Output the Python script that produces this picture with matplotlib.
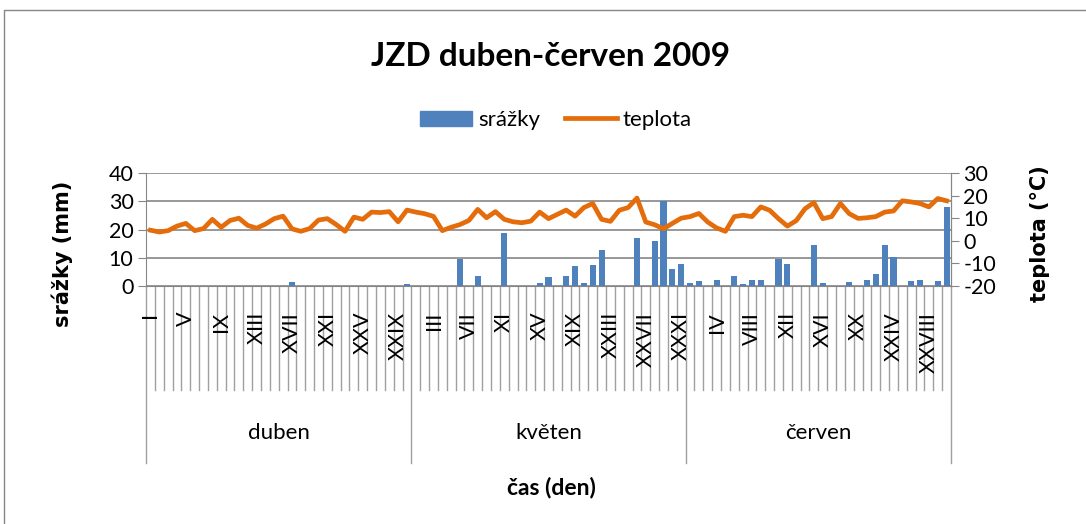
import numpy as np
import matplotlib
matplotlib.use("Agg")
import matplotlib.pyplot as plt
import matplotlib.transforms as mtransforms
from matplotlib.patches import Patch
from matplotlib.lines import Line2D

plt.rcParams['font.family'] = ['Lato', 'DejaVu Sans']
plt.rcParams['axes.unicode_minus'] = False

# --- data: daily values April-June 2009 ---
months = ['duben', 'květen', 'červen']
month_days = [30, 31, 30]

# srážky (mm), one value per day
srazky = [0, 0, 0, 0, 0, 0, 0, 0, 0, 0,
          0, 0, 0, 0, 0, 0, 1.4, 0, 0, 0,
          0, 0, 0, 0, 0, 0, 0, 0, 0, 0.7,
          0, 0, 0, 0, 0, 9.7, 0, 3.5, 0, 0,
          18.7, 0, 0, 0, 1.0, 3.2, 0, 3.5, 7.1, 1.1,
          7.4, 12.7, 0, 0, 0, 17.0, 0, 15.9, 30.0, 6.0,
          7.8, 1.1, 1.8, 0, 2.1, 0, 3.5, 0.7, 2.1, 2.1,
          0, 9.7, 7.8, 0, 0, 14.4, 1.1, 0, 0, 1.4,
          0, 2.1, 4.2, 14.4, 10.2, 0, 1.8, 2.1, 0, 1.8,
          27.8]

# teplota (°C), one value per day
teplota = [4.7, 3.9, 4.5, 6.5, 7.7, 4.5, 5.4, 9.5, 6.0, 9.0,
           10.0, 6.8, 5.6, 7.4, 9.8, 10.9, 5.3, 4.2, 5.4, 9.2,
           9.8, 7.2, 4.2, 10.5, 9.5, 12.7, 12.5, 12.9, 8.4, 13.6,
           12.7, 12.0, 10.8, 4.5, 6.0, 7.2, 9.0, 13.9, 10.2, 12.9,
           9.5, 8.4, 8.0, 8.7, 12.7, 9.8, 11.7, 13.6, 10.9, 14.7,
           16.5, 9.5, 8.6, 13.5, 14.7, 18.9, 8.3, 7.1, 5.3, 7.7,
           10.0, 10.7, 12.1, 8.3, 5.7, 4.2, 10.7, 11.3, 10.7, 15.0,
           13.5, 9.8, 6.5, 8.9, 14.2, 16.9, 9.8, 10.7, 16.5, 12.0,
           9.9, 10.2, 10.7, 12.7, 13.2, 17.7, 17.2, 16.5, 15.0, 18.7,
           17.7]

# labels shown on the axis (every 4th day)
label_pos = [0, 4, 8, 12, 16, 20, 24, 28, 32, 36, 40, 44, 48, 52, 56, 60,
             64, 68, 72, 76, 80, 84, 88]
label_txt = ['I', 'V', 'IX', 'XIII', 'XVII', 'XXI', 'XXV', 'XXIX',
             'III', 'VII', 'XI', 'XV', 'XIX', 'XXIII', 'XXVII', 'XXXI',
             'IV', 'VIII', 'XII', 'XVI', 'XX', 'XXIV', 'XXVIII']

blue = '#4F81BD'
orange = '#E46C0A'
gray = '#868686'
fs = 15.5

fig = plt.figure(figsize=(10.86, 5.24), dpi=100)
ax = fig.add_axes([146/1086, 1-286/524, 805/1086, 113/524])
x = np.arange(len(srazky))

ax.bar(x, srazky, width=0.68, color=blue, zorder=2)
ax.set_xlim(-0.5, len(x)-0.5)
ax.set_ylim(0, 40)
ax.set_yticks([0, 10, 20, 30, 40])
ax.yaxis.grid(True, color=gray, lw=1.2, zorder=0)
ax.set_axisbelow(True)
ax.set_xticks([])
ax.spines['top'].set_visible(False)
for s in ['left', 'right', 'bottom']:
    ax.spines[s].set_color(gray)
ax.tick_params(axis='y', colors=gray, labelcolor='black', labelsize=fs, length=6, pad=3)

ax2 = ax.twinx()
ax2.plot(x, teplota, color=orange, lw=3.4, solid_joinstyle='round', zorder=3)
ax2.set_ylim(-20, 30)
ax2.set_yticks([-20, -10, 0, 10, 20, 30])
ax2.tick_params(axis='y', colors=gray, labelcolor='black', labelsize=fs, length=6, pad=3)
for s in ['top', 'left', 'bottom']:
    ax2.spines[s].set_visible(False)
ax2.spines['right'].set_color(gray)

# category axis: day ticks, day labels, month separators, month names
trans = mtransforms.blended_transform_factory(ax.transData, ax.transAxes)
bounds = np.cumsum([0] + month_days) - 0.5
for k in range(len(x) + 1):
    b = k - 0.5
    low = -1.566 if b in bounds else -0.92
    ax.plot([b, b], [0, low], color='#A0A0A0', lw=1, transform=trans, clip_on=False)

for p, t in zip(label_pos, label_txt):
    ax.text(p, -0.23, t, transform=trans, rotation=90, ha='center', va='top', fontsize=fs)

for i, m in enumerate(months):
    ax.text((bounds[i] + bounds[i+1]) / 2, -1.30, m, transform=trans,
            ha='center', va='center', fontsize=16)

fig.text(551/1086, 1-487/524, 'čas (den)', ha='center', va='center', fontsize=16.5, fontweight='bold')
fig.text(62/1086, 1-254/524, 'srážky (mm)', ha='center', va='center', rotation=90,
         fontsize=15, fontweight='bold', family='DejaVu Sans')
fig.text(1040/1086, 1-234/524, 'teplota (°C)', ha='center', va='center', rotation=90,
         fontsize=15, fontweight='bold', family='DejaVu Sans')
fig.text(551/1086, 1-66/524, 'JZD duben-červen 2009', ha='center', va='baseline',
         fontsize=24, fontweight='bold')

handles = [Patch(color=blue), Line2D([], [], color=orange, lw=3.4)]
fig.legend(handles, ['srážky', 'teplota'], loc='center', bbox_to_anchor=(556/1086, 1-120/524),
           ncol=2, frameon=False, fontsize=16, handlelength=2.35, handleheight=0.68,
           handletextpad=0.27, columnspacing=1.1)

# chart frame
fig.add_artist(Line2D([4/1086, 4/1086, 1.0], [0, 1-10/524, 1-10/524], color=gray, lw=1,
                      transform=fig.transFigure))

fig.savefig('out.png', dpi=100)
